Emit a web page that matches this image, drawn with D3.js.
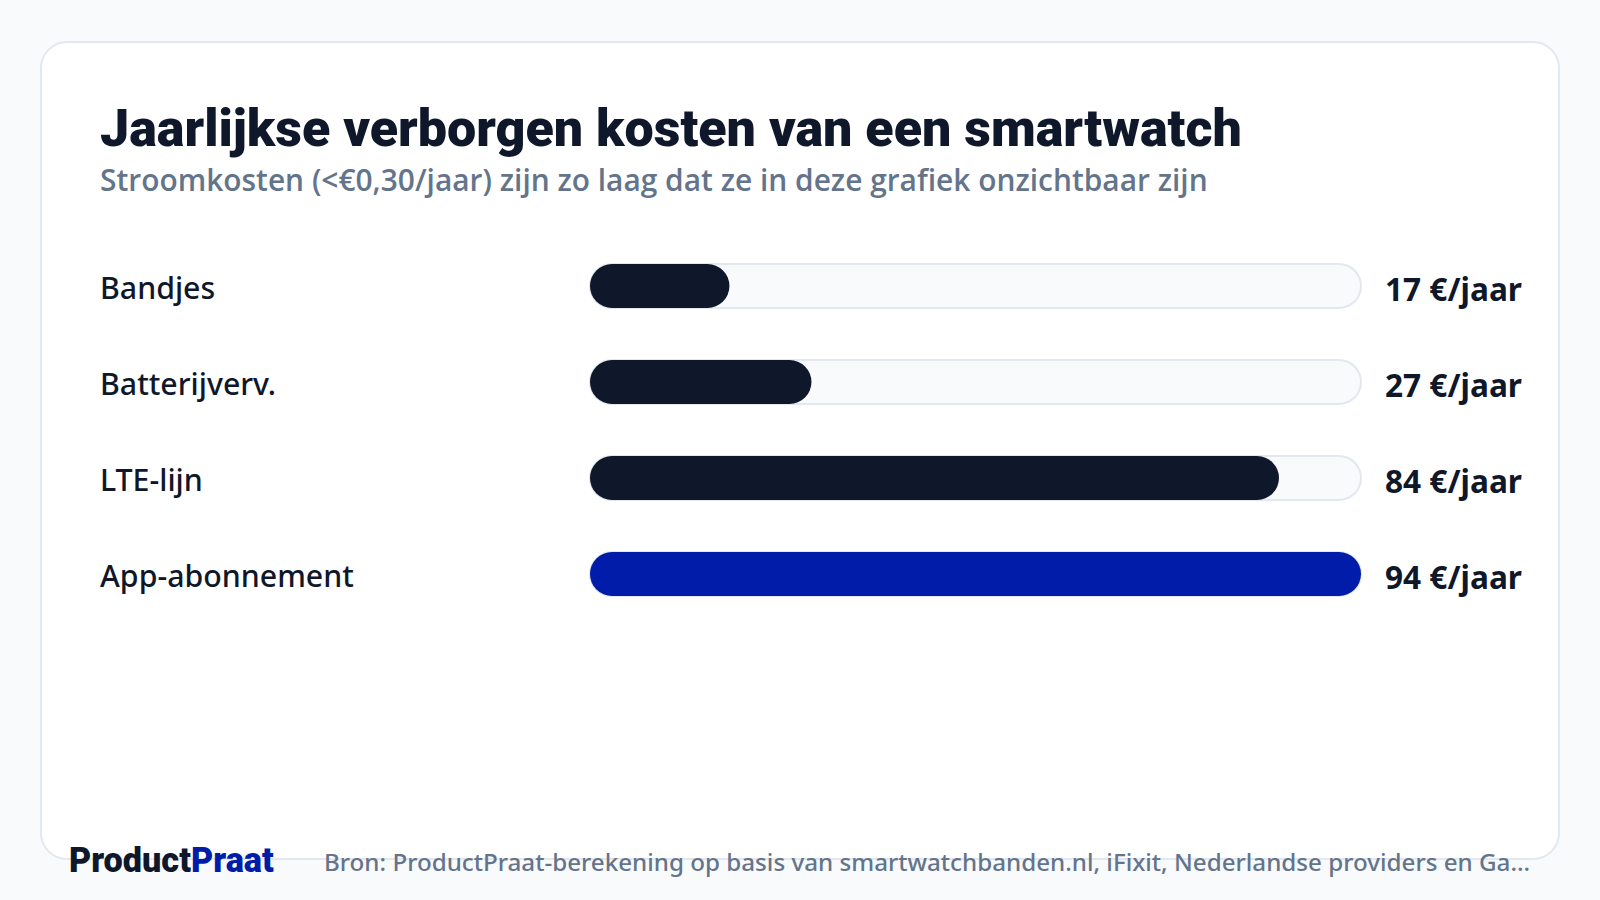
<!DOCTYPE html>
<html><head><meta charset="utf-8">
<script src="https://cdn.jsdelivr.net/npm/d3@7/dist/d3.min.js"></script>
<style>
html,body{margin:0;padding:0;background:#f8fafc;}
svg{display:block;}
</style></head>
<body>
<svg id="chart" width="1600" height="900"></svg>
<script>
const categories = ["Bandjes", "Batterijverv.", "LTE-lijn", "App-abonnement"];
const values = [17, 27, 84, 94];
const valueLabels = ["17 €/jaar", "27 €/jaar", "84 €/jaar", "94 €/jaar"];
const highlight = [false, false, false, true];
const title = "Jaarlijkse verborgen kosten van een smartwatch";
const subtitle = "Stroomkosten (<€0,30/jaar) zijn zo laag dat ze in deze grafiek onzichtbaar zijn";
const source = "Bron: ProductPraat-berekening op basis van smartwatchbanden.nl, iFixit, Nederlandse providers en Ga…";

const svg = d3.select("#chart");
const W = 1600, H = 900;
svg.append("rect").attr("width", W).attr("height", H).attr("fill", "#f8fafc");

// card
svg.append("rect").attr("x", 41).attr("y", 42).attr("width", 1518).attr("height", 817)
  .attr("rx", 26).attr("fill", "#ffffff").attr("stroke", "#e2e8f0").attr("stroke-width", 2);

svg.append("text").attr("x", 100).attr("y", 146)
  .attr("font-family", "Roboto").attr("font-weight", 900).attr("font-size", 52)
  .attr("fill", "#0f172a").text(title);

svg.append("text").attr("x", 100).attr("y", 191)
  .attr("font-family", "Open Sans").attr("font-weight", 600).attr("font-size", 29.9)
  .attr("fill", "#64748b").text(subtitle);

const x = d3.scaleLinear().domain([0, d3.max(values)]).range([590, 1361]);
const y = d3.scaleBand().domain(categories).range([238, 622]).paddingInner(0.54).paddingOuter(0.27);
const bh = 44;

const rows = svg.append("g").selectAll("g").data(categories).join("g");
const cy = d => y(d) + y.bandwidth() / 2;

rows.append("rect")
  .attr("x", x(0)).attr("y", d => cy(d) - bh / 2)
  .attr("width", x.range()[1] - x(0)).attr("height", bh)
  .attr("rx", bh / 2).attr("fill", "#f8fafc").attr("stroke", "#e2e8f0").attr("stroke-width", 2);

rows.append("rect")
  .attr("x", x(0)).attr("y", d => cy(d) - bh / 2)
  .attr("width", (d, i) => x(values[i]) - x(0)).attr("height", bh)
  .attr("rx", bh / 2).attr("fill", (d, i) => highlight[i] ? "#001ca8" : "#0f172a");

rows.append("text")
  .attr("x", 100).attr("y", d => cy(d)).attr("dy", "0.42em")
  .attr("font-family", "Noto Sans").attr("font-weight", 500).attr("font-size", 30.3)
  .attr("fill", "#0f172a").text(d => d);

rows.append("text")
  .attr("x", 1385).attr("y", d => cy(d)).attr("dy", "0.48em")
  .attr("font-family", "Noto Sans").attr("font-weight", 700).attr("font-size", 31.6)
  .attr("fill", "#0f172a")
  .text((d, i) => valueLabels[i]);

// footer
const logo = svg.append("text").attr("x", 69).attr("y", 872)
  .attr("font-family", "Roboto").attr("font-weight", 900).attr("font-size", 34.2);
logo.append("tspan").attr("fill", "#0f172a").text("Product");
logo.append("tspan").attr("fill", "#001ca8").text("Praat");

svg.append("text").attr("x", 324).attr("y", 871)
  .attr("font-family", "Noto Sans").attr("font-weight", 500).attr("font-size", 24.2)
  .attr("fill", "#64748b").text(source);
</script>
</body></html>
